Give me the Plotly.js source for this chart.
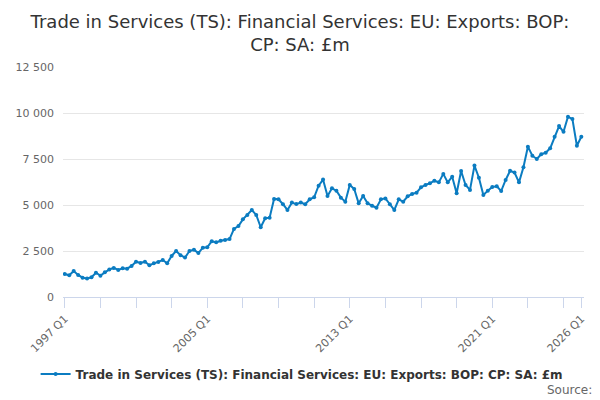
<!DOCTYPE html>
<html>
<head>
<meta charset="utf-8">
<script src="https://cdn.plot.ly/plotly-3.0.1.min.js"></script>
<style>
  html, body { margin: 0; padding: 0; background: #fff; }
  #chart { width: 600px; height: 400px; }
</style>
</head>
<body>
<div id="chart"></div>
<script>
// Quarterly exports, £m, 1997 Q1 .. 2026 Q1
const firstYear = 1997;
const exportsValues = [
  1250, 1180, 1410, 1200,   // 1997
  1050, 1010, 1070, 1320,   // 1998
  1160, 1340, 1500, 1580,   // 1999
  1470, 1560, 1540, 1690,   // 2000
  1920, 1850, 1920, 1730,   // 2001
  1830, 1900, 2010, 1830,   // 2002
  2230, 2500, 2270, 2140,   // 2003
  2500, 2570, 2390, 2680,   // 2004
  2700, 3030, 2970, 3060,   // 2005
  3100, 3150, 3700, 3860,   // 2006
  4220, 4460, 4730, 4460,   // 2007
  3790, 4280, 4310, 5330,   // 2008
  5310, 5040, 4730, 5130,   // 2009
  5050, 5130, 5040, 5310,   // 2010
  5420, 6050, 6380, 5490,   // 2011
  5910, 5780, 5400, 5180,   // 2012
  6090, 5870, 5090, 5490,   // 2013
  5090, 4960, 4850, 5310,   // 2014
  5360, 5040, 4730, 5310,   // 2015
  5180, 5470, 5600, 5670,   // 2016
  5960, 6090, 6180, 6320,   // 2017
  6230, 6690, 6230, 6540,   // 2018
  5640, 6850, 6090, 5820,   // 2019
  7140, 6480, 5540, 5780,   // 2020
  5980, 6020, 5760, 6360,   // 2021
  6860, 6760, 6230, 7050,   // 2022
  8170, 7680, 7500, 7760,   // 2023
  7840, 8080, 8710, 9290,   // 2024
  8980, 9800, 9670, 8220,   // 2025
  8710                      // 2026 Q1
];

// quarter labels for the categories
const quarterLabels = exportsValues.map((v, i) =>
  (firstYear + Math.floor(i / 4)) + ' Q' + (i % 4 + 1));

// tick marks every two years, text only on some of them
const tickYears = [1997, 1999, 2001, 2003, 2005, 2007, 2009, 2011, 2013, 2015, 2017, 2019, 2021, 2023, 2025, 2026];
const labelledYears = [1997, 2005, 2013, 2021, 2026];
const yTicks = [0, 2500, 5000, 7500, 10000, 12500];

const seriesName = 'Trade in Services (TS): Financial Services: EU: Exports: BOP: CP: SA: £m';
const lineColor = '#0b7cc1';

const trace = {
    x: quarterLabels,
    y: exportsValues,
    type: 'scatter',
    mode: 'lines+markers',
    name: '<b>' + seriesName + '</b>',
    line: { color: lineColor, width: 2 },
    marker: { color: lineColor, size: 4 },
    hoverinfo: 'x+y'
};

const layout = {
    width: 600,
    height: 400,
    font: { family: 'DejaVu Sans, sans-serif', color: '#666666', size: 11 },
    separators: '. ',
    paper_bgcolor: '#ffffff',
    plot_bgcolor: '#ffffff',
    margin: { l: 63, r: 16, t: 67, b: 103 },
    title: {
        text: 'Trade in Services (TS): Financial Services: EU: Exports: BOP:<br>CP: SA: £m',
        font: { size: 18, color: '#333333' },
        x: 0.5,
        xanchor: 'center',
        y: 0.93,
        yanchor: 'top'
    },
    xaxis: {
        type: 'category',
        range: [-0.4, 116.6],
        tickmode: 'array',
        tickvals: tickYears.map(y => y + ' Q1'),
        ticktext: tickYears.map(y => labelledYears.includes(y) ? y + ' Q1' : ''),
        tickangle: -45,
        ticks: 'outside',
        ticklen: 10,
        tickcolor: '#ccd6eb',
        showline: true,
        linecolor: '#ccd6eb',
        linewidth: 1,
        showgrid: false,
        zeroline: false,
        tickfont: { size: 11, color: '#666666' }
    },
    yaxis: {
        range: [0, 12500],
        tickmode: 'array',
        tickvals: yTicks,
        tickformat: ',d',
        showgrid: true,
        gridcolor: '#e6e6e6',
        zeroline: false,
        showline: false,
        ticks: '',
        ticklabelstandoff: 8,
        tickfont: { size: 11, color: '#666666' }
    },
    showlegend: true,
    legend: {
        orientation: 'h',
        x: 0.458,
        xanchor: 'center',
        y: -0.335,
        yanchor: 'middle',
        font: { size: 12, color: '#333333' }
    },
    annotations: [{
        text: 'Source:',
        xref: 'paper',
        yref: 'paper',
        x: 1.02,
        y: -0.404,
        xanchor: 'right',
        yanchor: 'middle',
        showarrow: false,
        font: { size: 12, color: '#666666' }
    }]
};

Plotly.newPlot('chart', [trace], layout, { displayModeBar: false, staticPlot: true });
</script>
</body>
</html>
